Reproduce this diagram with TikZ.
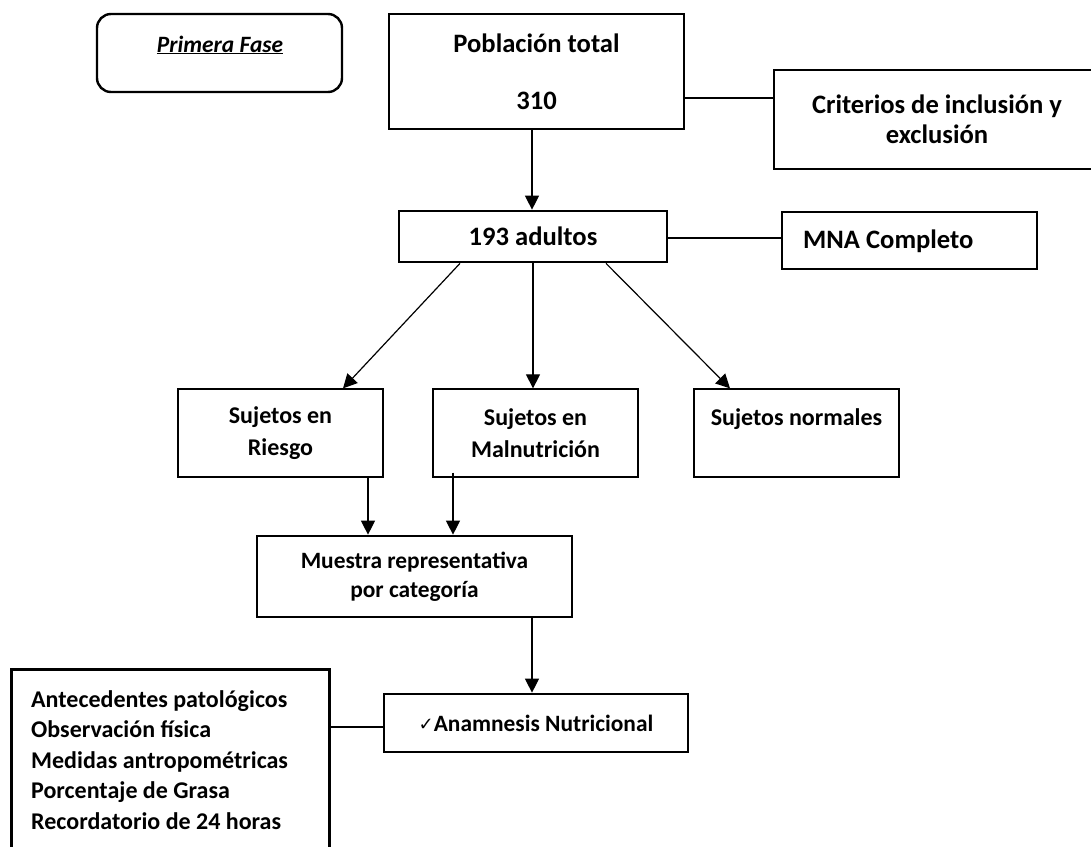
\documentclass[tikz,border=0pt]{standalone}
\usepackage{fontspec}
\setmainfont{Carlito}
\newfontfamily\symfont{DejaVu Sans}
\usetikzlibrary{arrows.meta}
\begin{document}
\begin{tikzpicture}[x=1pt,y=-1pt,
  every node/.style={font=\fontsize{24}{32}\selectfont\bfseries, align=center, inner sep=0pt},
  big/.style={font=\fontsize{26.6}{30}\selectfont\bfseries},
  box/.style={draw, line width=1.3pt},
  tbox/.style={draw, line width=2.7pt},
  arr/.style={line width=1.2pt,-{Triangle[width=14pt,length=14pt]}},
  link/.style={line width=1.2pt}]
\useasboundingbox (0,0) rectangle (1091,846);
\clip (0,0) rectangle (1091,846);
% Primera fase
\node[draw, line width=2.4pt, rounded corners=14pt, minimum width=245pt, minimum height=78pt] (fase) at (219.5,53) {};
\node[font=\fontsize{23.4}{28}\selectfont\bfseries] (fasetxt) at (220,45) {\textit{\underline{Primera Fase}}};
% Poblacion
\node[tbox, minimum width=295pt, minimum height=115pt, font=\fontsize{26.6}{57}\selectfont\bfseries] (pob) at (536.5,71.5) {Población total\\310};
\node[tbox, big, minimum width=326pt, minimum height=99pt] (crit) at (937,119.5) {Criterios de inclusión y\\exclusión};
\draw[link] (pob.east |- 0,98) -- (crit.west |- 0,98);
% 193
\node[tbox, big, minimum width=268pt, minimum height=51pt] (adul) at (533,236.5) {\raisebox{-3pt}{193 adultos}};
\draw[arr] (pob.south -| 532,0) -- (adul.north -| 532,0);
\node[tbox, minimum width=255pt, minimum height=57pt] (mna) at (909.5,240.5) {};
\node[big, anchor=west] (mnatxt) at (803,241) {MNA Completo};
\draw[link] (adul.east |- 0,238) -- (mna.west |- 0,238);
% categories
\node[box, minimum width=205pt, minimum height=88pt] (rie) at (280.5,433) {Sujetos en\\Riesgo};
\node[box, minimum width=205pt, minimum height=88pt] (mal) at (535.5,433) {Sujetos en\\Malnutrición};
\node[box, minimum width=205pt, minimum height=88pt] (nor) at (796.5,433) {Sujetos normales\\\phantom{X}};
\draw[arr] (adul.south -| 460,0) -- (rie.north -| 343,0);
\draw[arr] (adul.south -| 533,0) -- (mal.north -| 533,0);
\draw[arr] (adul.south -| 606,0) -- (nor.north -| 730,0);
% muestra
\node[tbox, minimum width=315pt, minimum height=81pt, font=\fontsize{23.4}{29}\selectfont\bfseries] (mue) at (414.5,576.5) {\raisebox{-3pt}{Muestra representativa}\\\raisebox{-3pt}{por categoría}};
\draw[arr] (rie.south -| 368,0) -- (mue.north -| 368,0);
\draw[arr] ([yshift=5pt]mal.south -| 453,0) -- (mue.north -| 453,0);
% anamnesis
\node[tbox, minimum width=304pt, minimum height=58pt, font=\fontsize{23.4}{28}\selectfont\bfseries] (ana) at (536,723) {{\symfont\fontsize{18}{18}\selectfont\raisebox{1pt}{✓}}Anamnesis Nutricional};
\draw[arr] (mue.south -| 532,0) -- (ana.north -| 532,0);
\node[tbox, anchor=north west, minimum width=318pt, minimum height=200pt] (lista) at (10,668) {};
\node[anchor=north west, align=left, font=\fontsize{24}{30.5}\selectfont\bfseries] (listatxt) at (31,690) {Antecedentes patológicos\\Observación física\\Medidas antropométricas\\Porcentaje de Grasa\\Recordatorio de 24 horas};
\draw[link] (lista.east |- 0,727) -- (ana.west |- 0,727);
\end{tikzpicture}
\end{document}
